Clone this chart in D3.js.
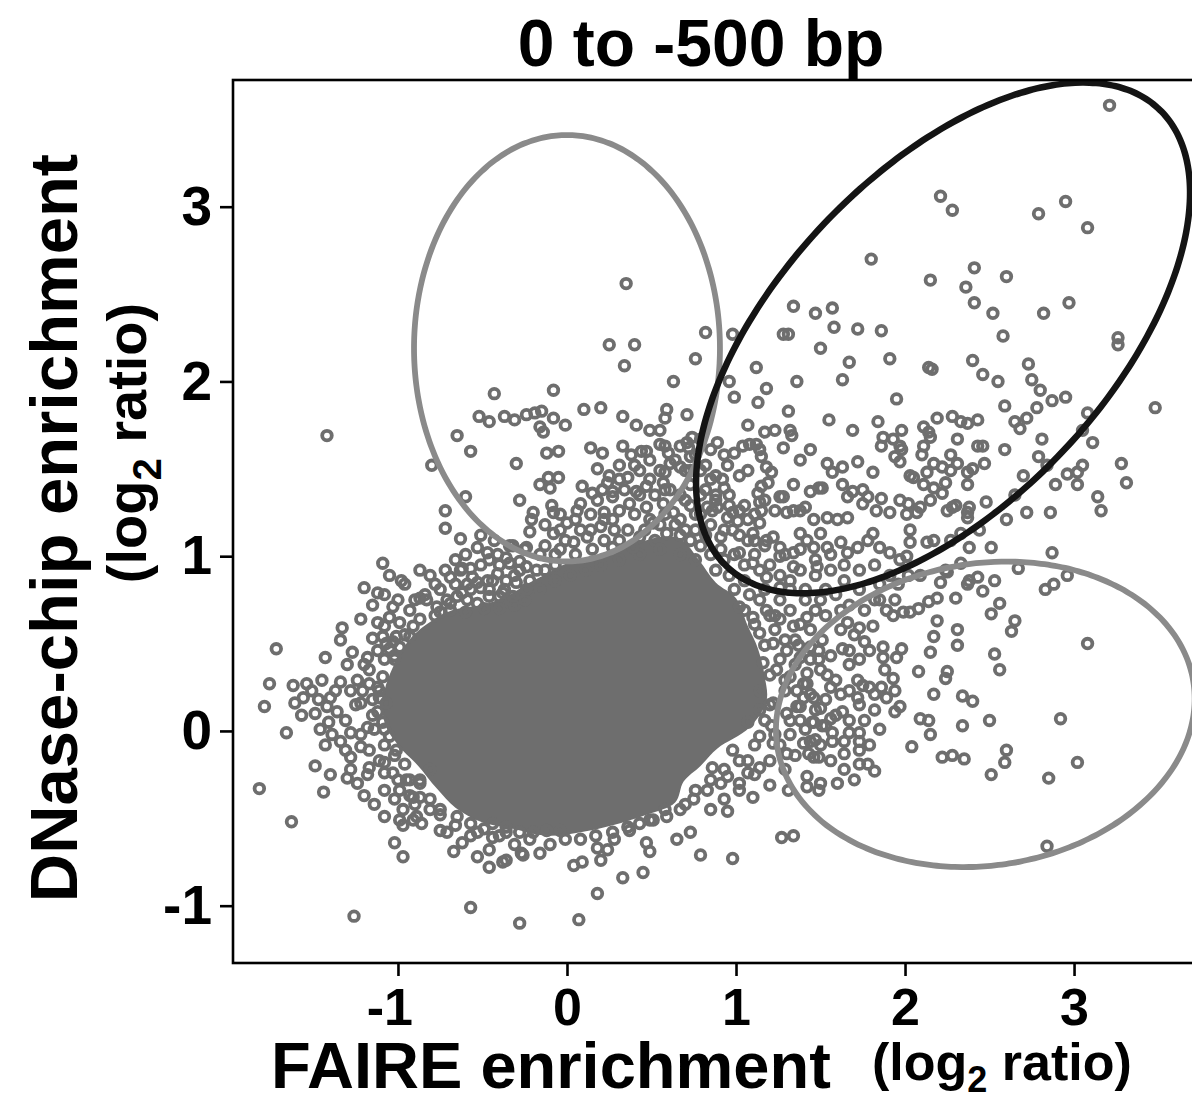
<!DOCTYPE html>
<html>
<head>
<meta charset="utf-8">
<script src="https://cdn.jsdelivr.net/npm/d3@7"></script>
<style>
  body { margin: 0; background: #fff; }
  svg { display: block; }
  text { font-family: "Liberation Sans", Arial, Helvetica, sans-serif; font-weight: bold; fill: #000; }
</style>
</head>
<body>
<svg id="chart" width="1192" height="1101"></svg>
<script>
// ---- axis ticks (log2 ratio) ----
const xTicks = [-1, 0, 1, 2, 3];
const yTicks = [-1, 0, 1, 2, 3];

// ---- outline of the densely packed centre, where markers merge into a solid mass ----
const coreOutline = [
  [-1.08,0.23],[-0.95,0.50],[-0.83,0.61],[-0.68,0.69],[-0.51,0.72],[-0.36,0.77],[-0.22,0.85],[-0.12,0.90],
  [0.00,0.96],[0.12,0.98],[0.27,1.04],[0.43,1.08],[0.55,1.11],[0.67,1.10],[0.78,0.98],[0.88,0.85],
  [1.00,0.76],[1.07,0.60],[1.13,0.47],[1.17,0.31],[1.18,0.17],[1.08,0.02],[0.89,-0.10],[0.79,-0.20],
  [0.69,-0.29],[0.64,-0.41],[0.47,-0.48],[0.27,-0.54],[0.08,-0.58],[-0.12,-0.60],[-0.32,-0.56],[-0.51,-0.52],
  [-0.66,-0.44],[-0.77,-0.33],[-0.88,-0.20],[-1.00,-0.08],[-1.08,0.05]
];

// ---- individual promoters (FAIRE, DNase) ----
const coreEdgePts = [
  [0.14,1.24],[0.22,1.25],[0.31,1.26],[0.40,1.24],[0.49,1.21],[0.58,1.24],[0.67,1.21],[0.73,1.29],[0.79,1.24],[0.76,1.15],[0.67,1.12],[0.52,1.09],
  [0.31,1.09],[0.22,1.09],[0.08,1.15],[-0.01,1.09],[-0.13,1.06],[-0.07,1.01],[0.05,1.01],[0.79,1.06],[0.85,1.01],[0.93,0.98],[0.88,0.92],[0.96,0.89],
  [1.05,0.86],[0.99,0.81],[1.08,0.78],[1.14,0.75],[1.05,0.69],[1.20,0.66],[1.11,0.61],[1.23,0.58],[1.17,0.49],[1.26,0.41],[1.20,0.32],[1.29,0.23],
  [1.20,0.15],[1.32,0.06],[1.17,0.06],[1.23,-0.02],[1.11,-0.08],[1.02,-0.17],[0.93,-0.22],[0.85,-0.28],[0.76,-0.34],[0.70,-0.42],[0.58,-0.45],[0.49,-0.51],
  [0.37,-0.57],[0.28,-0.62],[0.17,-0.60],[-0.01,-0.62],[-0.10,-0.65],[-0.22,-0.62],[-0.31,-0.65],[-0.40,-0.60],[-0.49,-0.56],[-0.57,-0.60],[-0.66,-0.54],
  [-0.75,-0.48],[-0.81,-0.39],[-0.90,-0.42],[-0.87,-0.28],[-0.96,-0.19],[-1.02,-0.14],[-1.08,-0.08],[-1.14,0.01],[-1.12,0.11],[-1.15,0.18],[-1.12,0.25],
  [-1.17,0.35],[-1.08,0.41],[-1.02,0.43],[-0.96,0.55],[-0.87,0.64],[-0.78,0.66],[-0.69,0.69],[-0.60,0.68],[-0.49,0.70],[-0.40,0.70],[-0.31,0.72],
  [-0.25,0.75],[-0.16,0.81],[-0.07,0.86],[0.02,0.89],[0.11,0.92],[0.20,0.95],[0.31,0.98],[0.43,1.01],[0.55,1.04],[0.67,1.01],[0.76,0.98],
  [1.32,0.86],[1.41,0.81],[1.50,0.75],[1.59,0.78],[1.67,0.72],[1.76,0.69],[1.82,0.75],[1.38,0.92],[1.47,0.89],[1.56,0.92],[1.64,0.86],[1.73,0.81],
  [1.85,0.84],[1.53,0.66],[1.62,0.58],[1.44,0.58],[1.35,0.52],[1.56,0.43],[1.67,0.38],
  [0.82,1.38],[0.88,1.35],[0.79,1.49],[0.85,1.44],[0.96,1.35],[1.05,1.29],[1.17,1.32],[1.23,1.26],[0.73,1.41],[0.67,1.35],[0.58,1.38],[0.49,1.44],
  [0.43,1.49],[0.31,1.52],[0.25,1.46],[0.73,1.49]
];

const leftDensePts = [
  [-1.34,0.52],[-1.30,0.38],[-1.37,0.23],[-1.25,0.15],[-1.31,0.06],[-1.22,-0.02],[-1.28,-0.22],[-1.20,-0.37],[-1.14,-0.42],[-1.08,-0.34],[-1.02,-0.39],
  [-1.22,0.64],[-1.15,0.72],[-1.08,0.78],[-1.00,0.75],[-0.93,0.69],[-0.87,0.76],[-0.96,0.84],[-1.05,0.89],[-1.02,0.41],[-1.05,0.47],[-1.12,0.46],
  [-1.20,0.38],[-1.24,0.29],[-1.21,0.23],[-1.15,0.09],[-1.08,0.01],[-1.11,-0.17],[-1.18,-0.25],[-1.00,-0.28],[-0.93,-0.37],[-1.31,-0.11],[-1.39,-0.02],
  [-1.43,-0.08],[-1.47,0.18],[-1.45,0.29],[-1.51,0.23],
  [-0.75,0.81],[-0.66,0.84],[-0.57,0.81],[-0.46,0.81],[-0.37,0.81],[-0.31,0.89],[-0.22,0.86],[-0.13,0.92],[-0.07,0.95],[-0.40,0.95],[-0.46,0.98],
  [-0.60,1.01],[-0.66,0.98],[-0.72,0.92],[-0.78,0.84],[-0.84,0.78],[-0.90,0.75],[-0.81,0.89],[-0.87,0.92],[-0.16,1.01],[-0.25,1.04],[-0.34,1.06],
  [-0.43,1.09],[-0.51,1.12],[-0.04,1.04]
];

const rightDensePts = [
  [1.17,0.81],[1.26,0.75],[1.23,0.66],[1.32,0.69],[1.38,0.61],[1.29,0.52],[1.37,0.49],[1.44,0.41],[1.35,0.38],[1.29,0.29],[1.36,0.23],[1.44,0.21],
  [1.53,0.18],[1.47,0.12],[1.38,0.06],[1.32,-0.02],[1.41,0.01],[1.26,-0.08],[1.35,-0.14],[1.20,-0.17],[1.29,-0.22],[1.11,-0.25],[1.20,-0.31],[1.02,-0.34],
  [0.93,-0.39],[0.85,-0.45],[1.14,0.12],[1.21,0.03],[1.50,0.35],[1.59,0.29],[1.62,0.21],[1.59,0.09],[1.67,0.06],[1.53,0.03],[1.47,-0.05],[1.56,-0.17],
  [1.64,-0.22],[1.73,-0.19],[1.70,-0.28],[1.79,-0.08],[1.76,0.06],[1.85,0.01],[1.82,0.12],[1.73,0.15],[1.67,0.46],[1.73,0.41],[1.79,0.46],[1.70,0.55],
  [1.62,0.69],[1.53,0.81],[1.47,0.69],[1.41,0.75],[1.32,0.81],[1.26,0.89],[1.20,0.95],[1.14,0.92],[1.11,1.01],[1.17,1.06],[1.29,1.01],[1.38,1.04],
  [1.47,0.98],[1.56,1.01],[1.64,0.95],[1.73,0.92],[1.82,0.95],[1.91,0.89],[1.85,0.75],[1.94,0.75],
  [0.34,1.38],[0.43,1.35],[0.52,1.35],[0.61,1.38],[0.70,1.32],[0.79,1.35],[0.88,1.32],[0.96,1.29],[1.02,1.26],[1.11,1.24],[0.76,1.24],[0.85,1.18],
  [0.93,1.15],[1.02,1.12],[1.11,1.09],[0.73,1.09],[0.82,1.12],[0.91,1.04],[0.99,1.01],[1.05,0.95],[0.31,1.44],[0.40,1.52],[0.49,1.55],[0.55,1.64],
  [0.64,1.55],[0.70,1.49],[0.76,1.58],[0.82,1.52],[0.88,1.46],[0.93,1.58],[0.79,1.67],[0.85,1.61],[0.22,1.21],[0.14,1.15],[0.05,1.21],[-0.04,1.24],
  [-0.13,1.18],[-0.04,1.15],[0.28,1.15],[0.46,1.15],[0.55,1.18],[0.64,1.18],[0.70,1.15]
];

const upperLeftPts = [
  [0.35,2.56],[0.25,2.21],[0.40,2.21],[0.34,2.09],[0.76,2.13],[0.63,2.00],[0.82,2.28],
  [-0.43,1.93],[-0.08,1.95],[-0.52,1.80],[-0.46,1.77],[-0.37,1.80],[-0.31,1.78],[-0.24,1.81],[-0.19,1.82],[-0.15,1.83],[-0.16,1.74],[-0.14,1.71],[-0.08,1.79],[-0.01,1.75],
  [0.10,1.84],[0.20,1.85],[0.33,1.80],[0.41,1.75],[0.49,1.72],[0.55,1.72],[0.59,1.84],[0.58,1.79],[0.71,1.81],
  [-0.65,1.69],[-0.57,1.60],[-0.30,1.53],[-0.80,1.52],[-0.12,1.59],[-0.05,1.60],
  [0.14,1.62],[0.21,1.59],[0.33,1.63],[0.38,1.58],[0.44,1.60],[0.47,1.60],[0.58,1.63],[0.60,1.59],[0.67,1.63],[0.71,1.65],[0.74,1.68],[0.72,1.62],[0.73,1.57],[0.61,1.53],[0.58,1.48],
  [0.18,1.50],[0.36,1.45],[0.41,1.37],[0.47,1.40],[0.55,1.49],[0.67,1.51],[0.57,1.42],[0.09,1.40],[0.15,1.36],[0.21,1.38],[0.27,1.37],[0.24,1.42],
  [-0.16,1.41],[-0.11,1.45],[-0.05,1.45],[-0.10,1.39],[-0.60,1.34],
  [-0.72,1.26],[-0.72,1.16],[-0.63,1.10],[-1.09,0.96],[-0.98,0.86],
  [-0.28,1.32],[-0.20,1.25],[-0.21,1.21],[-0.09,1.29],[-0.08,1.25],[-0.22,1.14],
  [-0.53,1.05],[-0.47,1.02],[-0.41,1.01],[-0.36,0.99],[-0.28,0.97],[-0.24,0.94],[-0.18,0.92],[-0.32,1.06],[-0.24,1.05],
  [-0.08,1.13],[0.00,1.19],[0.06,1.26],[0.08,1.30],[0.18,1.32],[0.27,1.34],[0.37,1.30],[0.47,1.28],[0.57,1.30],[0.63,1.25],
  [0.04,1.08],[0.12,1.11],[0.20,1.17],[0.27,1.21],[0.36,1.15],[0.43,1.11],[0.51,1.19],[0.59,1.13],[0.15,1.04],[0.27,1.05],[0.39,1.05],[0.83,1.28]
];

const leftPts = [
  [-1.42,1.69],
  [-0.69,0.88],[-0.63,0.92],[-0.57,0.93],[-0.51,0.95],[-0.56,0.88],[-0.59,0.84],[-0.51,0.82],[-0.47,0.86],[-0.41,0.90],[-0.36,0.86],[-0.30,0.85],[-0.24,0.81],
  [-0.83,0.75],[-0.77,0.71],[-0.71,0.75],[-0.65,0.77],[-0.59,0.75],[-0.53,0.73],[-0.46,0.77],[-0.40,0.77],[-0.32,0.77],
  [-1.03,0.71],[-1.05,0.65],[-1.08,0.60],[-0.99,0.62],[-0.91,0.60],[-0.93,0.54],[-1.01,0.54],[-1.07,0.50],[-0.99,0.48],
  [-1.20,0.82],[-1.12,0.79],[-1.72,0.47],[-1.76,0.27],[-1.79,0.14],[-1.62,0.26],[-1.54,0.27],[-1.56,0.19],[-1.61,0.16],[-1.57,0.09],[-1.49,0.10],[-1.42,0.14],[-1.40,0.19],[-1.36,0.11],
  [-1.66,-0.01],[-1.46,0.01],[-1.41,0.05],[-1.49,-0.20],[-1.40,-0.25],[-1.30,-0.27],[-1.24,-0.30],[-1.82,-0.33],[-1.44,-0.35],[-1.63,-0.52],
  [-1.34,-0.06],[-1.28,-0.01],[-1.28,-0.15],[-1.22,-0.09],[-1.18,0.02],[-1.17,-0.11],[-1.17,-0.21],[-1.08,-0.18],[-1.08,-0.24],
  [-1.43,0.42],[-1.33,0.59],[-1.27,0.45],[-1.18,0.42],[-1.34,0.28],[-1.28,0.23],[-1.22,0.16],[-1.17,0.27],[-1.11,0.19],[-1.12,0.62],[-1.09,0.54],[-1.03,0.51],[-1.15,0.53],
  [-0.75,0.68],[-0.69,0.73],[-0.62,0.79],[-0.53,0.85],[-0.62,0.93],[-0.44,0.86],[-0.38,0.79],[-0.34,0.96],[-0.28,0.92],
  [-1.09,0.31],[-1.11,0.23],[-1.07,0.16],[-1.09,0.05],[-1.05,-0.03],[-1.01,-0.11],[-1.03,-0.24],[-0.95,-0.28],[-0.87,-0.38]
];

const bottomPts = [
  [-1.08,-0.49],[-1.02,-0.64],[-0.97,-0.72],[-0.97,-0.45],[-0.89,-0.49],[-0.86,-0.53],[-0.97,-0.54],[-0.75,-0.57],[-0.71,-0.58],[-0.67,-0.69],
  [-0.62,-0.64],[-0.53,-0.72],[-0.46,-0.68],[-0.46,-0.78],[-0.38,-0.75],[-0.53,-0.58],[-0.44,-0.61],[-0.36,-0.58],[-0.27,-0.70],[-0.16,-0.70],[0.04,-0.77],
  [-0.99,-0.34],[-0.93,-0.28],[-0.87,-0.30],[-0.81,-0.22],[-0.75,-0.45],[-0.65,-0.49],[-0.57,-0.53],
  [0.95,-0.46],[0.98,-0.73],[0.79,-0.71],[0.65,-0.62],[0.73,-0.58],[0.45,-0.81],[0.33,-0.84],[0.47,-0.64],[0.49,-0.69],[0.18,-0.67],[0.20,-0.74],[0.24,-0.68],[0.09,-0.75],[-0.26,-0.71],[-0.36,-0.74],
  [-0.99,-0.51],[-0.91,-0.51],[-0.91,-0.38],[-0.81,-0.45],
  [-0.44,-0.53],[-0.36,-0.55],[-0.28,-0.58],[-0.20,-0.58],[-0.12,-0.57],[-0.04,-0.57],[0.08,-0.62],[0.27,-0.58],[0.36,-0.55],[0.43,-0.53],[0.51,-0.51],[0.59,-0.49],[0.67,-0.45],[0.75,-0.39],[0.83,-0.34],[0.91,-0.30],[1.07,-0.24],
  [-1.26,-1.06],[-0.57,-1.01],[-0.28,-1.10],[0.07,-1.08],[0.18,-0.93]
];

const rightPts = [
  [1.02,0.71],[1.10,0.65],[1.18,0.69],[1.26,0.64],[1.34,0.60],[1.42,0.65],[1.14,0.56],[1.22,0.50],[1.30,0.46],[1.38,0.42],[1.44,0.48],[1.16,0.39],[1.24,0.35],[1.32,0.31],[1.40,0.27],[1.46,0.19],
  [1.14,0.23],[1.22,0.16],[1.30,0.10],[1.38,0.14],[1.46,0.05],[1.07,0.05],[1.14,-0.03],[1.22,-0.07],[1.30,-0.13],[1.40,-0.07],[1.46,-0.15],[0.98,-0.11],[1.07,-0.17],[1.14,-0.21],
  [0.86,-0.21],[0.95,-0.26],[1.02,-0.30],[1.10,-0.38],[1.42,-0.26],[1.50,-0.30],
  [0.86,1.26],[0.95,1.22],[0.98,1.15],[1.07,1.09],[1.14,1.19],[1.22,1.11],[1.26,1.00],[1.34,0.94],[0.91,1.11],[1.02,1.02],[1.10,0.96],[1.18,0.88],[1.26,0.82],[1.26,1.34],[1.46,1.05],[1.48,0.94],
  [1.60,-0.30],[1.31,-0.34],[1.42,-0.32],[1.49,-0.34],[1.78,-0.19],[1.82,-0.23],[1.63,0.11],[1.27,-0.61],[1.34,-0.60],
  [1.73,-0.01],[1.73,-0.06],[1.73,-0.11],[1.67,-0.01],[1.64,-0.06],[1.64,-0.13],[1.57,-0.01],[1.57,-0.06],[1.50,-0.08],[1.49,-0.15],[1.44,-0.06],[1.43,-0.13],
  [1.56,0.07],[1.50,0.13],[1.54,0.32],[1.56,0.25],[1.63,0.47],[1.45,0.05],[1.51,0.03],[1.36,0.14],[1.40,0.19],[1.42,0.27],[1.42,0.33],[1.49,0.41],[1.49,0.46],[1.51,0.52],
  [1.94,0.11],[1.97,0.14],[1.89,0.19],[1.94,0.23],[1.93,0.30],[1.86,0.25],[1.82,0.21],[1.79,0.25],[1.75,0.26],[1.72,0.29],[1.67,0.23],[1.72,0.19],
  [1.88,0.35],[1.87,0.42],[1.95,0.42],[1.98,0.47],[1.87,0.48],[1.76,0.51],[1.66,0.62],[1.73,0.59],[1.81,0.60],[1.89,0.69],[1.93,0.66],[1.99,0.68],[2.03,0.68],[2.08,0.70],[2.14,0.74],[2.19,0.76],
  [1.96,0.84],[2.02,0.89],[2.25,0.91]
];

const lowerRightPts = [
  [3.08,0.50],[2.92,0.07],[3.02,-0.18],[2.85,-0.27],[2.84,-0.66],[2.96,0.89],[2.83,0.81],[2.88,0.84],[2.37,0.84],[2.46,0.80],[2.30,0.76],[2.56,0.73],[2.51,0.67],
  [2.65,0.63],[2.63,0.57],[2.31,0.58],[2.31,0.49],[2.19,0.63],[2.17,0.54],[2.15,0.45],[2.53,0.44],[2.56,0.35],[2.25,0.34],[2.24,0.30],[2.08,0.34],[2.17,0.21],
  [2.34,0.20],[2.40,0.17],[2.50,0.06],[2.34,0.03],[2.09,0.07],[2.14,0.06],[2.15,-0.02],[2.04,-0.09],[2.22,-0.15],[2.28,-0.14],[2.35,-0.16],[2.60,-0.11],[2.59,-0.18],[2.51,-0.25]
];

const upperRightPts = [
  [3.21,3.58],[2.21,3.06],[2.28,2.98],[2.95,3.03],[2.79,2.96],[3.08,2.88],[2.41,2.65],[2.15,2.58],[2.60,2.60],[2.36,2.54],[2.41,2.45],[2.52,2.39],[2.82,2.39],[2.97,2.45],[2.58,2.26],[3.26,2.25],[3.26,2.21],
  [1.80,2.70],[1.34,2.43],[1.47,2.39],[1.57,2.42],[1.58,2.31],[1.72,2.30],[1.86,2.29],[0.98,2.27],[1.28,2.27],[1.31,2.27],
  [1.50,2.19],[1.67,2.11],[1.91,2.13],[2.14,2.08],[2.16,2.07],[2.40,2.12],[1.12,2.08],[0.96,2.00],[1.18,1.96],[1.36,2.00],[1.63,2.01],[0.99,1.91],[1.13,1.88],[1.95,1.90],
  [1.31,1.83],[1.07,1.75],[1.17,1.71],[1.23,1.72],[1.32,1.72],[1.33,1.69],[1.55,1.78],[1.69,1.72],[1.84,1.77],[1.98,1.72],[1.87,1.68],[1.93,1.67],[2.11,1.74],[2.14,1.71],[2.15,1.68],
  [2.19,1.79],[2.28,1.80],[2.33,1.77],[2.37,1.76],[2.43,1.78],[2.31,1.67],[2.43,1.63],
  [0.89,1.65],[0.99,1.59],[1.04,1.63],[1.08,1.64],[1.12,1.64],[1.14,1.61],[1.15,1.57],[1.28,1.62],[1.38,1.55],[1.44,1.61],[0.95,1.52],[1.02,1.46],[1.07,1.49],[1.18,1.51],[1.21,1.48],
  [1.19,1.42],[1.15,1.40],[1.13,1.36],[0.92,1.44],[0.93,1.39],[1.14,1.31],[1.28,1.34],[1.34,1.41],
  [1.54,1.53],[1.57,1.48],[1.63,1.51],[1.72,1.54],[1.81,1.48],[1.86,1.63],[1.94,1.57],[1.97,1.54],[1.97,1.63],[2.05,1.45],[2.13,1.48],[2.11,1.41],[2.17,1.39],[2.22,1.36],[2.24,1.42],
  [2.27,1.58],[2.31,1.53],[2.27,1.49],[2.37,1.48],[2.40,1.50],
  [1.44,1.37],[1.49,1.39],[1.51,1.39],[1.63,1.41],[1.66,1.34],[1.69,1.37],[1.75,1.38],[1.78,1.34],[1.75,1.30],[1.86,1.33],
  [1.30,1.25],[1.34,1.26],[1.38,1.26],[1.41,1.28],[1.46,1.21],[1.54,1.22],[1.60,1.21],[1.66,1.22],[1.15,1.26],[0.89,1.28],[0.98,1.25],[1.01,1.20],
  [1.83,1.26],[1.91,1.25],[1.97,1.32],[2.02,1.30],[2.07,1.25],[2.09,1.28],[2.15,1.32],[2.28,1.28],[2.37,1.25],[2.38,1.28],
  [2.03,1.15],[2.13,1.08],[2.17,1.09],[2.27,1.09],[2.33,1.13],
  [1.38,1.13],[1.42,1.09],[1.50,1.13],[1.54,1.05],[1.62,1.08],[1.66,1.02],[1.72,1.05],[1.78,1.09],[1.81,1.13],[1.85,1.05],[1.91,1.02],[1.97,0.98],
  [1.07,1.21],[1.10,1.13],[1.18,1.09],[1.26,1.05],[1.34,1.02],
  [2.73,2.10],[2.46,2.04],[2.55,2.00],[2.75,2.01],[2.80,1.95],[2.87,1.89],[2.95,1.91],[3.08,1.82],[3.48,1.85],[2.59,1.86],[2.78,1.85],[2.65,1.77],[2.72,1.79],[2.68,1.73],
  [2.81,1.67],[3.05,1.72],[3.11,1.65],[2.59,1.61],[2.79,1.57],[2.84,1.52],[2.96,1.47],[3.02,1.48],[3.05,1.52],[3.02,1.41],[2.89,1.41],[3.28,1.53],[3.31,1.42],[3.14,1.34],[3.16,1.26],
  [2.86,1.25],[2.72,1.25],[2.70,1.46],[2.48,1.31],[2.60,1.21],[2.87,1.02],[2.67,0.93],[2.51,1.05],
  [2.46,1.63],[2.47,1.53],[2.37,1.41],[2.22,1.51],[2.17,1.53],[2.11,1.63],[2.10,1.58],[2.03,1.46],[1.98,1.61],[2.01,1.24],[2.25,1.26],[2.30,1.29],[2.37,1.22],[2.03,1.08],
  [2.38,1.05],[2.44,1.15],[2.01,1.00],[2.09,0.89],[2.21,0.85],[2.24,0.92],[2.33,0.96],[2.38,0.86],[2.43,0.88],[2.53,0.86],[2.65,1.35]
];

// ---- gated regions: centre, semi-axes (log2 units) and tilt in degrees ----
const gates = [
  { name: "dnase-only", cx: 0.00,  cy: 2.19,  rx: 0.905, ry: 1.22,  tilt: 0 },
  { name: "faire-only", cx: 2.475, cy: 0.095, rx: 1.245, ry: 0.865, tilt: 8 },
  { name: "both",       cx: 2.225, cy: 2.249, rx: 1.83,  ry: 0.96,  tilt: 45 }
];
const gateColor = { "dnase-only": "#8a8a8a", "faire-only": "#8a8a8a", "both": "#141414" };
const gateWidth = { "dnase-only": 5.8, "faire-only": 5.8, "both": 6.5 };

// ---- layout ----
const W = 1192, H = 1101;
const frame = { left: 233, top: 80, right: 1202, bottom: 963 };
const pointColor = "#6e6e6e";

const svg = d3.select("#chart");
svg.append("rect").attr("width", W).attr("height", H).attr("fill", "#fff");

const x = d3.scaleLinear().domain([-1.976, 3.757]).range([frame.left, frame.right]);
const y = d3.scaleLinear().domain([-1.328, 3.725]).range([frame.bottom, frame.top]);

svg.append("defs").append("clipPath").attr("id", "plotClip")
  .append("rect").attr("x", frame.left).attr("y", frame.top)
  .attr("width", frame.right - frame.left).attr("height", frame.bottom - frame.top);

const plot = svg.append("g").attr("clip-path", "url(#plotClip)");

// solid centre
const area = d3.line().x(d => x(d[0])).y(d => y(d[1])).curve(d3.curveCatmullRomClosed.alpha(0.5));
plot.append("path").attr("d", area(coreOutline)).attr("fill", pointColor);

// open-circle markers
const allPts = [].concat(coreEdgePts, leftDensePts, rightDensePts, leftPts, bottomPts,
                         upperLeftPts, rightPts, lowerRightPts, upperRightPts);
plot.append("g").selectAll("circle").data(allPts).join("circle")
  .attr("cx", d => x(d[0])).attr("cy", d => y(d[1])).attr("r", 4.8)
  .attr("fill", "none").attr("stroke", pointColor).attr("stroke-width", 3.8);

// gate ellipses
function gatePath(g) {
  const a = g.tilt * Math.PI / 180;
  const pts = d3.range(0, 360, 2).map(deg => {
    const t = deg * Math.PI / 180;
    const u = g.rx * Math.cos(t), v = g.ry * Math.sin(t);
    return [g.cx + u * Math.cos(a) - v * Math.sin(a), g.cy + u * Math.sin(a) + v * Math.cos(a)];
  });
  return d3.line().x(d => x(d[0])).y(d => y(d[1])).curve(d3.curveCardinalClosed)(pts);
}
plot.append("g").selectAll("path").data(gates).join("path")
  .attr("d", gatePath).attr("fill", "none")
  .attr("stroke", g => gateColor[g.name]).attr("stroke-width", g => gateWidth[g.name]);

// frame
svg.append("rect").attr("x", frame.left).attr("y", frame.top)
  .attr("width", frame.right - frame.left).attr("height", frame.bottom - frame.top)
  .attr("fill", "none").attr("stroke", "#000").attr("stroke-width", 2.6);

// axes
const yAxis = svg.append("g").attr("transform", `translate(${frame.left},0)`)
  .call(d3.axisLeft(y).tickValues(yTicks).tickSize(13).tickSizeOuter(0).tickPadding(8).tickFormat(d => String(d)));
const xAxis = svg.append("g").attr("transform", `translate(0,${frame.bottom})`)
  .call(d3.axisBottom(x).tickValues(xTicks).tickSize(13).tickSizeOuter(0).tickPadding(12).tickFormat(d => String(d)));
[yAxis, xAxis].forEach(g => {
  g.select(".domain").remove();
  g.selectAll(".tick line").attr("stroke", "#000").attr("stroke-width", 2.6);
  g.selectAll(".tick text").attr("fill", "#000")
    .style("font-family", '"Liberation Sans", Arial, sans-serif').style("font-weight", "bold");
});
yAxis.selectAll(".tick text").attr("font-size", 55);
xAxis.selectAll(".tick text").attr("font-size", 52).attr("text-anchor", "end").attr("x", 0.278 * 52);

// title
svg.append("text").attr("x", 701).attr("y", 66).attr("text-anchor", "middle")
  .attr("font-size", 66).text("0 to -500 bp");

// y-axis titles
svg.append("text").attr("transform", "translate(77,528) rotate(-90)")
  .attr("text-anchor", "middle").attr("font-size", 67).text("DNase-chip enrichment");
const ySub = svg.append("text").attr("transform", "translate(146,443) rotate(-90)")
  .attr("text-anchor", "middle").attr("font-size", 56);
ySub.append("tspan").text("(log");
ySub.append("tspan").attr("font-size", 40).attr("dy", 15).text("2");
ySub.append("tspan").attr("dy", -15).text(" ratio)");

// x-axis titles
svg.append("text").attr("x", 271).attr("y", 1088).attr("font-size", 65).text("FAIRE enrichment");
const xSub = svg.append("text").attr("x", 872).attr("y", 1080).attr("font-size", 52);
xSub.append("tspan").text("(log");
xSub.append("tspan").attr("font-size", 36).attr("dy", 12).text("2");
xSub.append("tspan").attr("dy", -12).text(" ratio)");
</script>
</body>
</html>
